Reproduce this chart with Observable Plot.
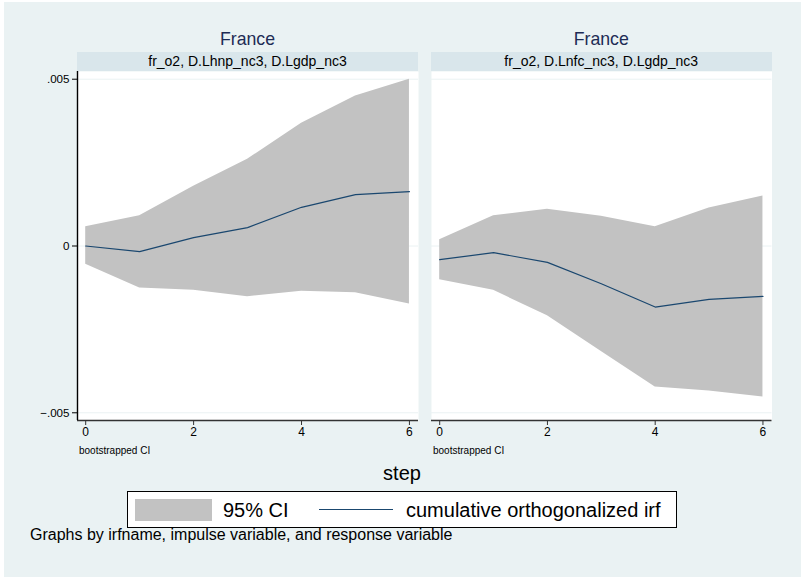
<!DOCTYPE html>
<html>
<head>
<meta charset="utf-8">
<script src="https://cdn.jsdelivr.net/npm/d3@7"></script>
<script src="https://cdn.jsdelivr.net/npm/@observablehq/plot@0.6"></script>
<style>
  html, body { margin: 0; padding: 0; background: #ffffff; }
  body { width: 801px; height: 578px; position: relative; overflow: hidden; font-family: "Liberation Sans", Arial, sans-serif; }
  #bg { position: absolute; left: 4px; top: 2px; width: 797px; height: 575px; background: #eaf2f3; }
  .abs { position: absolute; white-space: nowrap; }
  .title { font-size: 17.7px; line-height: 20px; color: #1e2c55; text-align: center; }
  .strip { background: #d9e6eb; font-size: 14px; color: #000; text-align: center; line-height: 19px; height: 19px; }
  .note { font-size: 10px; line-height: 12px; color: #000; }
  svg { overflow: visible; }
</style>
</head>
<body>
<div id="bg"></div>
<div id="root"></div>
<script>
// ---- data ----
const steps = [0, 1, 2, 3, 4, 5, 6];
const panelTitles = ["France", "France"];
const panelSubtitles = ["fr_o2, D.Lhnp_nc3, D.Lgdp_nc3", "fr_o2, D.Lnfc_nc3, D.Lgdp_nc3"];
const irfLeft  = [0, -0.00017, 0.00025, 0.00055, 0.00116, 0.00154, 0.00163];
const loLeft   = [-0.00055, -0.00126, -0.00133, -0.00152, -0.00136, -0.00140, -0.00174];
const hiLeft   = [0.00058, 0.00091, 0.00179, 0.00260, 0.00368, 0.00450, 0.00500];
const irfRight = [-0.00041, -0.00020, -0.00049, -0.00113, -0.00183, -0.00160, -0.00151];
const loRight  = [-0.00101, -0.00133, -0.00209, -0.00316, -0.00423, -0.00435, -0.00453];
const hiRight  = [0.00019, 0.00091, 0.00110, 0.00089, 0.00058, 0.00114, 0.00150];
const xTicks = [0, 2, 4, 6];
const yTicks = [-0.005, 0, 0.005];
const yTickLabels = ["\u2212.005", "0", ".005"];
const legendLabels = ["95% CI", "cumulative orthogonalized irf"];
const xLabel = "step";
const panelNote = "bootstrapped CI";
const caption = "Graphs by irfname, impulse variable, and response variable";

const bgColor = "#eaf2f3";
const ciColor = "#c2c2c2";
const lineColor = "#1a476f";
const xDomain = [-0.152, 6.168];
const yDomain = [-0.005231, 0.005231];

function makeRows(irf, lo, hi) {
  return steps.map((s, i) => ({step: s, irf: irf[i], lo: lo[i], hi: hi[i]}));
}

function panel(rows, showY, opts) {
  const marks = [
    Plot.frame({fill: "white", stroke: "none"}),
    Plot.ruleY(yTicks, {stroke: bgColor, strokeWidth: 1}),
    Plot.areaY(rows, {x: "step", y1: "lo", y2: "hi", fill: ciColor}),
    Plot.lineY(rows, {x: "step", y: "irf", stroke: lineColor, strokeWidth: 1.2}),
    Plot.ruleY([yDomain[0]], {stroke: "#333", strokeWidth: 1.4}),
    Plot.axisX({ticks: xTicks, tickSize: 5, tickPadding: 2, fontSize: 12, tickFormat: d => String(d), label: null, stroke: "#333"})
  ];
  if (showY) {
    marks.push(Plot.ruleX([xDomain[0]], {stroke: "#000", strokeWidth: 1.4}));
    marks.push(Plot.axisY({ticks: yTicks, tickSize: 5, tickPadding: 3, fontSize: 11.6,
      tickFormat: d => yTickLabels[yTicks.findIndex(t => Math.abs(t - d) < 1e-9)], label: null}));
  }
  return Plot.plot({
    width: opts.width, height: 390,
    marginLeft: opts.ml, marginRight: opts.mr, marginTop: 11, marginBottom: 30,
    x: {domain: xDomain, axis: null},
    y: {domain: yDomain, axis: null},
    style: {background: "transparent", fontFamily: "'Liberation Sans', Arial, sans-serif", color: "#000", overflow: "visible"},
    marks
  });
}

const root = document.getElementById("root");
function place(el, left, top) {
  el.style.position = "absolute";
  el.style.left = left + "px";
  el.style.top = top + "px";
  root.appendChild(el);
}

const p1 = panel(makeRows(irfLeft, loLeft, hiLeft), true, {width: 420, ml: 77, mr: 2});
place(p1, 0, 60);
const p2 = panel(makeRows(irfRight, loRight, hiRight), false, {width: 381, ml: 11, mr: 29.5});
place(p2, 420, 60);

// panel titles and strips
const panelsX = [[77, 418], [431, 771.5]];
panelsX.forEach(([a, b], i) => {
  const t = document.createElement("div");
  t.className = "abs title";
  t.style.width = (b - a) + "px";
  t.textContent = panelTitles[i];
  place(t, a, 29);
  const s = document.createElement("div");
  s.className = "abs strip";
  s.style.width = (b - a) + "px";
  s.textContent = panelSubtitles[i];
  place(s, a, 52);
  const n = document.createElement("div");
  n.className = "abs note";
  n.textContent = panelNote;
  place(n, a + 2, 445);
});

// x label
const xl = document.createElement("div");
xl.className = "abs";
xl.style.fontSize = "20px";
xl.style.lineHeight = "22px";
xl.style.width = "200px";
xl.style.textAlign = "center";
xl.textContent = xLabel;
place(xl, 302, 462);

// legend
const lg = document.createElement("div");
lg.className = "abs";
lg.style.width = "548px";
lg.style.height = "35px";
lg.style.border = "1px solid #000";
lg.style.background = "#fff";
place(lg, 127, 491);
const sw = document.createElement("div");
sw.className = "abs";
sw.style.width = "77px"; sw.style.height = "22px"; sw.style.background = ciColor;
place(sw, 135, 499);
const l1 = document.createElement("div");
l1.className = "abs"; l1.style.fontSize = "20px"; l1.style.lineHeight = "22px";
l1.textContent = legendLabels[0];
place(l1, 223, 499);
const ln = document.createElement("div");
ln.className = "abs";
ln.style.width = "74px"; ln.style.height = "0px"; ln.style.borderTop = "1.5px solid " + lineColor;
place(ln, 319, 509);
const l2 = document.createElement("div");
l2.className = "abs"; l2.style.fontSize = "20px"; l2.style.lineHeight = "22px";
l2.textContent = legendLabels[1];
place(l2, 406, 499);

// caption
const cap = document.createElement("div");
cap.className = "abs";
cap.style.fontSize = "16px";
cap.style.lineHeight = "18px";
cap.textContent = caption;
place(cap, 30, 526);
</script>
</body>
</html>
